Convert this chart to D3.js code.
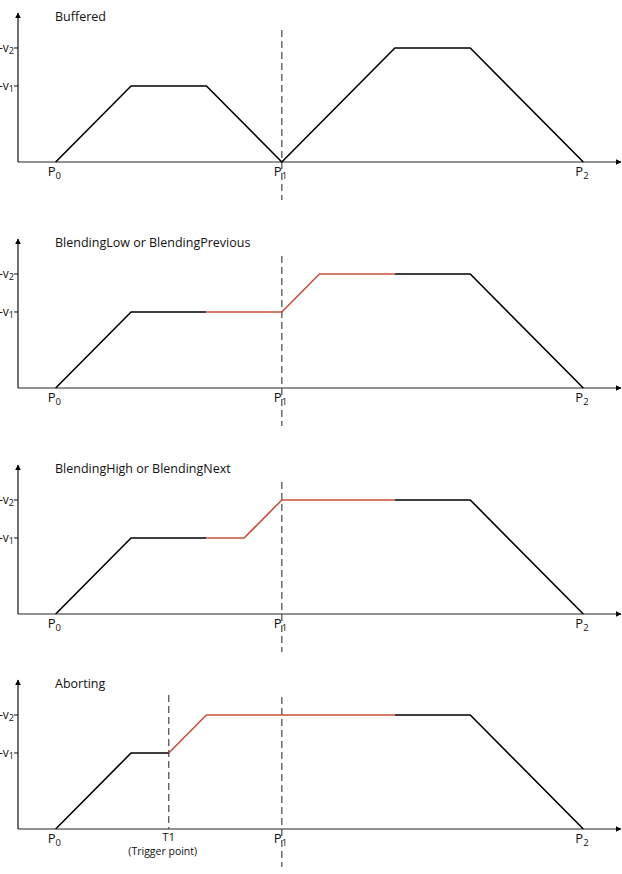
<!DOCTYPE html>
<html>
<head>
<meta charset="utf-8">
<script src="https://cdn.jsdelivr.net/npm/d3@7"></script>
<style>
  body { margin: 0; background: #fff; }
  text { font-family: "Open Sans", "Noto Sans", sans-serif; fill: #111; }
</style>
</head>
<body>
<div id="chart"></div>
<script>
// one entry per panel
const panelTitles = ['Buffered', 'BlendingLow or BlendingPrevious', 'BlendingHigh or BlendingNext', 'Aborting'];
// time in arbitrary units, P0 = 0, P1 = 6, P2 = 14
const profileT = [
  [0, 2, 4, 6, 9, 11, 14],
  [0, 2, 4, 6, 7, 9, 11, 14],
  [0, 2, 4, 5, 6, 9, 11, 14],
  [0, 2, 3, 4, 9, 11, 14]
];
// velocity, v1 = 2, v2 = 3
const profileV = [
  [0, 2, 2, 0, 3, 3, 0],
  [0, 2, 2, 2, 3, 3, 3, 0],
  [0, 2, 2, 2, 3, 3, 3, 0],
  [0, 2, 2, 3, 3, 3, 0]
];
// index range of the blended (red) part of the profile
const blendFrom = [null, 2, 2, 2];
const blendTo = [null, 5, 5, 4];
const pointNames = ['P', 'P', 'P'];
const pointSubs = ['0', '1', '2'];
const pointT = [0, 6, 14];
const velNames = ['v', 'v'];
const velSubs = ['1', '2'];
const velValues = [2, 3];
const triggerT = 3;

const width = 622;
const height = 874;
const axisY = [162, 388, 614, 829];

const svg = d3.select('#chart').append('svg')
  .attr('width', width)
  .attr('height', height);

svg.append('defs').append('marker')
  .attr('id', 'arrow')
  .attr('viewBox', '0 0 10 10')
  .attr('refX', 9).attr('refY', 5)
  .attr('markerWidth', 6).attr('markerHeight', 6)
  .attr('markerUnits', 'userSpaceOnUse')
  .attr('orient', 'auto')
  .append('path')
  .attr('d', 'M0,0 L10,5 L0,10 Z')
  .attr('fill', '#000');

const x = d3.scaleLinear().domain([-1, 15]).range([18, 621]);

panelTitles.forEach((title, i) => {
  const y0 = axisY[i];
  const y = d3.scaleLinear().domain([0, 3.92]).range([y0, y0 - 149]);
  const g = svg.append('g');

  // axes
  g.append('line')
    .attr('x1', x(-1)).attr('x2', x(15))
    .attr('y1', y(0)).attr('y2', y(0))
    .attr('stroke', '#6e6e6e').attr('stroke-width', 1.3)
    .attr('marker-end', 'url(#arrow)');
  g.append('line')
    .attr('x1', x(-1)).attr('x2', x(-1))
    .attr('y1', y(0)).attr('y2', y(3.92))
    .attr('stroke', '#111').attr('stroke-width', 1.2)
    .attr('marker-end', 'url(#arrow)');

  g.append('text')
    .attr('x', 55).attr('y', y(3.92) + 8)
    .attr('font-size', 12.5)
    .text(title);

  // velocity ticks
  velValues.forEach((v, k) => {
    g.append('line')
      .attr('x1', x(-1) - 4).attr('x2', x(-1))
      .attr('y1', y(v)).attr('y2', y(v))
      .attr('stroke', '#111');
    const t = g.append('text')
      .attr('x', x(-1) - 4).attr('y', y(v) + 4)
      .attr('text-anchor', 'end')
      .attr('font-size', 12);
    t.append('tspan').text('-' + velNames[k]);
    t.append('tspan').attr('font-size', 9).attr('dy', 2).text(velSubs[k]);
  });

  // dashed marker lines
  const p1Bottom = y0 + 38;
  g.append('line')
    .attr('x1', x(6)).attr('x2', x(6))
    .attr('y1', y(3.92) + 17).attr('y2', p1Bottom)
    .attr('stroke', '#555').attr('stroke-width', 1.3)
    .attr('stroke-dasharray', '7,4');
  if (i === 3) {
    g.append('line')
      .attr('x1', x(triggerT)).attr('x2', x(triggerT))
      .attr('y1', y(3.92) + 15).attr('y2', y(0))
      .attr('stroke', '#555').attr('stroke-width', 1.3)
      .attr('stroke-dasharray', '7,4');
  }

  // point labels
  pointT.forEach((t, k) => {
    const lbl = g.append('text')
      .attr('x', x(t) - 8).attr('y', y0 + 14)
      .attr('font-size', 13);
    lbl.append('tspan').text(pointNames[k]);
    lbl.append('tspan').attr('font-size', 9.5).attr('dy', 3).text(pointSubs[k]);
  });
  if (i === 3) {
    g.append('text')
      .attr('x', x(triggerT)).attr('y', y0 + 12)
      .attr('text-anchor', 'middle').attr('font-size', 11.5)
      .text('T1');
    g.append('text')
      .attr('x', x(triggerT) - 6).attr('y', y0 + 26)
      .attr('text-anchor', 'middle').attr('font-size', 10.5)
      .text('(Trigger point)');
  }

  // velocity profile, segment by segment
  const ts = profileT[i];
  const vs = profileV[i];
  const segs = d3.range(ts.length - 1).map(k => ({
    a: k, b: k + 1,
    red: blendFrom[i] !== null && k >= blendFrom[i] && k + 1 <= blendTo[i]
  }));
  const line = d3.line().x(d => x(ts[d])).y(d => y(vs[d]));
  // group consecutive segments of the same colour
  const runs = [];
  segs.forEach(s => {
    const last = runs[runs.length - 1];
    if (last && last.red === s.red) last.idx.push(s.b);
    else runs.push({ red: s.red, idx: [s.a, s.b] });
  });
  g.selectAll('path.profile')
    .data(runs)
    .join('path')
    .attr('class', 'profile')
    .attr('d', d => line(d.idx))
    .attr('fill', 'none')
    .attr('stroke', d => d.red ? '#c8503a' : '#000')
    .attr('stroke-width', 1.6)
    .attr('stroke-linejoin', 'round');
});
</script>
</body>
</html>
